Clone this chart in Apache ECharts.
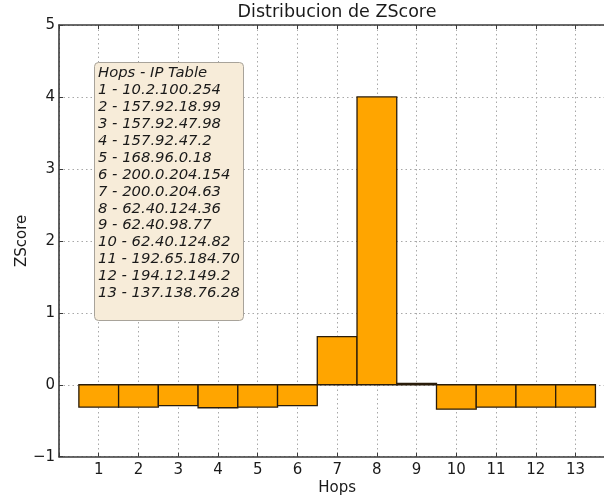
<!DOCTYPE html>
<html>
<head>
<meta charset="utf-8">
<script src="https://cdn.jsdelivr.net/npm/echarts@6/dist/echarts.min.js"></script>
<style>html,body{margin:0;padding:0;background:#fff}#c{width:604px;height:500px}</style>
</head>
<body>
<div id="c"></div>
<script>
var hops = [1, 2, 3, 4, 5, 6, 7, 8, 9, 10, 11, 12, 13];
var zscores = [-0.31, -0.31, -0.29, -0.32, -0.31, -0.29, 0.67, 4.0, 0.02, -0.34, -0.31, -0.31, -0.31];
var ips = ['10.2.100.254', '157.92.18.99', '157.92.47.98', '157.92.47.2', '168.96.0.18',
  '200.0.204.154', '200.0.204.63', '62.40.124.36', '62.40.98.77', '62.40.124.82',
  '192.65.184.70', '194.12.149.2', '137.138.76.28'];
var yTicks = [-1, 0, 1, 2, 3, 4, 5];

var tableText = ['Hops - IP Table'].concat(hops.map(function (h, i) { return h + ' - ' + ips[i]; })).join('\n') + '\n';

var chart = echarts.init(document.getElementById('c'), null, {renderer: 'canvas'});
var font = 'DejaVu Sans';
var txt = '#1a1a1a';
var axisCol = '#3a3a3a';

chart.setOption({
  backgroundColor: '#ffffff',
  animation: false,
  title: [{
    text: 'Distribucion de ZScore',
    left: 337, top: 3, padding: 0, textAlign: 'center',
    textStyle: {fontFamily: font, fontSize: 17.5, fontWeight: 'normal', color: txt}
  }, {
    text: tableText,
    left: 94, top: 62,
    padding: [3, 4, 2, 4],
    backgroundColor: '#f7ecd9',
    borderColor: '#a8a39a',
    borderWidth: 1,
    borderRadius: 4,
    textStyle: {fontFamily: font, fontSize: 14.8, fontStyle: 'italic', fontWeight: 'normal',
      color: txt, lineHeight: 16.9}
  }],
  grid: {left: 59, right: -11.3, top: 25, bottom: 43.3, containLabel: false, outerBoundsMode: 'none'},
  xAxis: [{
    type: 'value', min: 0, max: 14, interval: 1, position: 'bottom',
    name: 'Hops', nameLocation: 'middle', nameGap: 24, nameMoveOverlap: false,
    nameTextStyle: {fontFamily: font, fontSize: 15, color: txt},
    axisLine: {show: true, onZero: false, lineStyle: {color: axisCol, width: 1.6}},
    axisTick: {show: true, inside: true, length: 4, lineStyle: {color: axisCol}},
    axisLabel: {fontFamily: font, fontSize: 15, color: txt, margin: 6,
      formatter: function (v) { return (v >= 1 && v <= hops.length) ? String(v) : ''; }},
    splitLine: {show: true, lineStyle: {color: '#a8a8a8', type: [1.5, 3], width: 1}}
  }, {
    type: 'value', min: 0, max: 14, interval: 1, position: 'top',
    axisLine: {show: true, onZero: false, lineStyle: {color: axisCol, width: 1.6}},
    axisTick: {show: true, inside: true, length: 4, lineStyle: {color: axisCol}},
    axisLabel: {show: false},
    splitLine: {show: false}
  }],
  yAxis: {
    type: 'value', min: yTicks[0], max: yTicks[yTicks.length - 1], interval: 1,
    name: 'ZScore', nameLocation: 'middle', nameGap: 29, nameRotate: 90, nameMoveOverlap: false,
    nameTextStyle: {fontFamily: font, fontSize: 15, color: txt},
    axisLine: {show: true, onZero: false, lineStyle: {color: axisCol, width: 1.6}},
    axisTick: {show: true, inside: true, length: 4, lineStyle: {color: axisCol}},
    axisLabel: {fontFamily: font, fontSize: 15, color: txt, margin: 4,
      formatter: function (v) { return String(v).replace('-', '\u2212'); }},
    splitLine: {show: true, lineStyle: {color: '#a8a8a8', type: [1.5, 3], width: 1}}
  },
  series: [{
    type: 'custom',
    xAxisIndex: 0,
    data: hops.map(function (h, i) { return [h, zscores[i]]; }),
    renderItem: function (params, api) {
      var x = api.value(0), y = api.value(1);
      var p1 = api.coord([x - 0.5, y]);
      var p0 = api.coord([x + 0.5, 0]);
      return {
        type: 'rect',
        shape: {x: p1[0], y: Math.min(p1[1], p0[1]), width: p0[0] - p1[0], height: Math.abs(p0[1] - p1[1])},
        style: {fill: '#FFA500', stroke: '#2a1c0a', lineWidth: 1.3}
      };
    },
    z: 3
  }]
});
</script>
</body>
</html>
